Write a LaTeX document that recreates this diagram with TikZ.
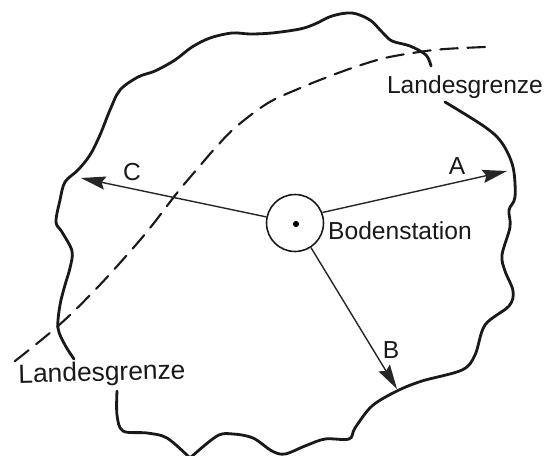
\documentclass[tikz,border=0pt]{standalone}
\usepackage{fontspec}
\setmainfont{Liberation Sans}
\usepackage{xcolor}
\usetikzlibrary{arrows.meta}
\usetikzlibrary{positioning}

\begin{document}
\begin{tikzpicture}
  [
    x=0.02cm, y=-0.02cm,
    grenze/.style={draw=black!90, line width=1.6pt, line cap=round},
    zone/.style={draw=black!90, line width=1.2pt, line cap=round, dash pattern=on 10pt off 5.5pt},
    ray/.style={draw=black!85, line width=0.8pt, -{Stealth[length=14pt,width=7.5pt,inset=2pt]}},
    txt/.style={inner sep=0pt, font=\fontsize{14}{16}\selectfont, text=black!90}
  ]
  \useasboundingbox (0,0) rectangle (544,456);

  % land outline
  \draw [grenze] plot [smooth, tension=0.55] coordinates {
    (431,66) (426,55) (410,46) (392,41) (382,32) (370,20) (352,13) (332,16)
    (315,24) (300,29) (272,33) (250,34) (232,33) (210,38) (192,47) (175,60)
    (155,71) (138,77) (120,90) (110,110) (100,135) (90,155) (78,170) (65,182)
    (60,200) (56,222) (62,232) (72,251) (70,268) (65,285) (60,305) (58,328)
    (65,345) (74,359)};
  \draw [grenze] plot [smooth, tension=0.55] coordinates {
    (117,391) (117,415) (123,431) (147,433) (167,438) (190,458)};
  \draw [grenze] plot [smooth, tension=0.55] coordinates {
    (190,458) (217,436) (233,434) (253,438) (272,451) (285,454) (305,446)
    (325,439) (349,439) (355,428) (372,406) (397,391) (422,381) (462,370)
    (475,355) (485,325) (509,306) (513,291) (505,271) (502,255) (510,227)
    (509,210) (515,197) (513,167) (502,143) (485,127) (445,102)};

  % border of the zone
  \draw [zone] plot [smooth, tension=0.6] coordinates {
    (485,47) (445,49) (419,52) (385,58) (355,67) (325,78) (298,89) (268,103)
    (237,126) (218,145) (198,168) (177,193) (150,228) (127,255) (95,290)
    (58,326) (10,365)};

  \node (station) at (295,223) [circle, draw=black!90, line width=0.9pt, minimum size=1.14cm, inner sep=0pt] {};
  \node (dot) at (296,224) [circle, fill=black, minimum size=3.5pt, inner sep=0pt] {};

  \coordinate (tipA) at (507,171);
  \coordinate (tipB) at (397,389);
  \coordinate (tipC) at (81,178);
  \draw [ray] (station.21) -- (tipA);
  \draw [ray] (station.-57) -- (tipB);
  \draw [ray] (station.168) -- (tipC);

  \node (labelA) at (457,166) [txt] {A};
  \node (labelB) at (391,350) [txt] {B};
  \node (labelC) at (132,172) [txt] {C};
  \node (labelStation) at (400,231) [txt] {Bodenstation};
  \node (labelTop) at (465,87) [txt] {Landesgrenze};
  \node (labelBottom) at (102,374) [txt, rotate=1.5, font=\fontsize{15}{17}\selectfont] {Landesgrenze};
\end{tikzpicture}
\end{document}
